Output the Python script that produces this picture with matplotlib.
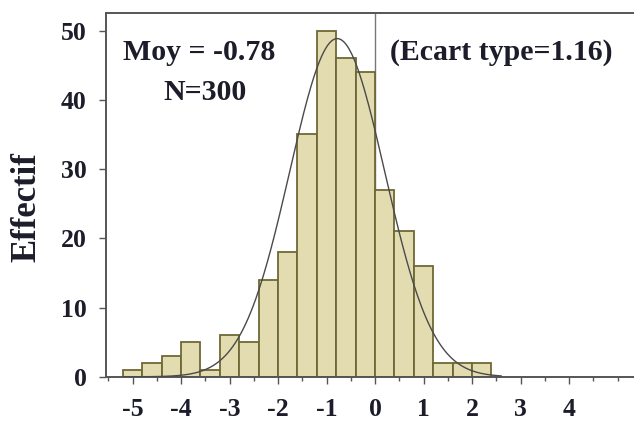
'''
Histogram of residuals with a
fitted normal curve
'''


#########################################

import numpy as np
import matplotlib.pyplot as plt


#########################################

# histogram bins (left edges) and counts
binLeft=[-5.2,-4.8,-4.4,-4.0,-3.6,-3.2,-2.8,-2.4,-2.0,-1.6,-1.2,-0.8,-0.4,0.0,0.4,0.8,1.2,1.6,2.0]
counts=[1,2,3,5,1,6,5,14,18,35,50,46,44,27,21,16,2,2,2]
binWidth=0.4

# fitted curve parameters
curveMean=-0.78
curveSd=0.98
nObs=300

xTicks=[-5,-4,-3,-2,-1,0,1,2,3,4]
yTicks=[0,10,20,30,40,50]


#########################################

def normCurve(x,mu,sd,n,w):
  '''Normal density scaled to counts'''
  return n*w/(sd*np.sqrt(2*np.pi))*np.exp(-0.5*((x-mu)/sd)**2)


#########################################

if __name__ == '__main__':
  '''Main block'''

  plt.rcParams['axes.unicode_minus']=False
  serif=['Liberation Serif','DejaVu Serif']
  txtCol='#1c1c2a'
  axCol='#555555'

  fig=plt.figure(figsize=(6.34,4.21),dpi=100)
  ax=fig.add_axes([0.167,0.105,0.833,0.865])

  # bars
  ax.bar(binLeft,counts,width=binWidth,align='edge',color='#e2dcb0',edgecolor='#6e6836',linewidth=1.3,zorder=2)

  # normal curve
  xs=np.linspace(-5.2,2.6,300)
  ax.plot(xs,normCurve(xs,curveMean,curveSd,nObs,binWidth),color='#4a4a4a',linewidth=1.0,zorder=3)

  # line at zero
  ax.axvline(0,color='#777777',linewidth=1.0,zorder=1)

  ax.set_xlim([-5.55,5.34])
  ax.set_ylim([0,52.6])

  ax.spines['right'].set_visible(False)
  for s in ['left','top','bottom']:
    ax.spines[s].set_color(axCol)
    ax.spines[s].set_linewidth(1.4)

  ax.set_xticks(xTicks)
  ax.set_xticks(np.arange(-5.5,5.3,0.5),minor=True)
  ax.set_yticks(yTicks)
  ax.tick_params(axis='both',which='major',direction='out',length=5,width=1.0,color=axCol)
  ax.tick_params(axis='x',which='minor',direction='out',length=3,width=1.0,color=axCol)
  ax.tick_params(axis='x',which='major',pad=10)
  ax.tick_params(axis='y',which='major',pad=9)

  for lab in ax.get_xticklabels()+ax.get_yticklabels():
    lab.set_family(serif)
    lab.set_fontweight('bold')
    lab.set_fontsize(18.5)
    lab.set_color(txtCol)

  ax.set_ylabel("Effectif",family=serif,fontweight='bold',fontsize=25,color=txtCol)
  ax.yaxis.set_label_coords(-0.118,0.466)

  # annotations
  ax.text(-3.63,46.8,"Moy = -0.78",family=serif,fontweight='bold',fontsize=21.5,color=txtCol,ha='center',va='center')
  ax.text(-3.5,41.0,"N=300",family=serif,fontweight='bold',fontsize=21.5,color=txtCol,ha='center',va='center')
  ax.text(0.31,46.9,"(Ecart type=1.16)",family=serif,fontweight='bold',fontsize=21.5,color=txtCol,ha='left',va='center')

  plt.savefig('out.png',dpi=100)
  plt.close()
